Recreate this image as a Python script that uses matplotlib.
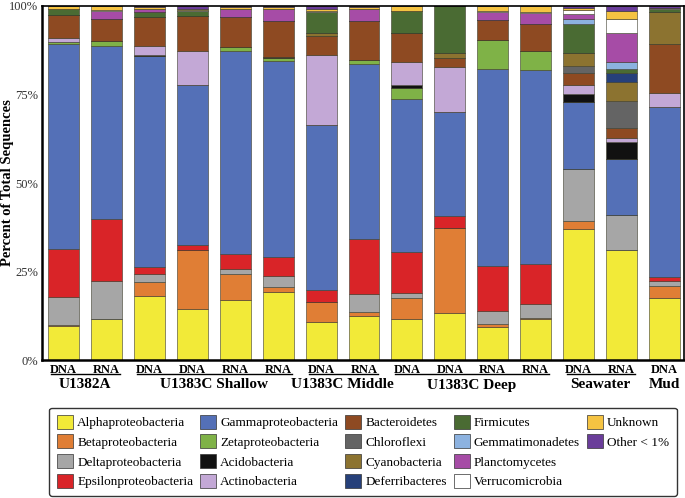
import numpy as np
import matplotlib
matplotlib.use("Agg")
import matplotlib.pyplot as plt
import matplotlib.transforms as mtransforms
from matplotlib.patches import Patch

plt.rcParams['font.family'] = ['Liberation Serif', 'DejaVu Serif']

# one entry per bar, left to right
samples = ["DNA", "RNA", "DNA", "DNA", "RNA", "RNA", "DNA", "RNA",
           "DNA", "DNA", "RNA", "RNA", "DNA", "RNA", "DNA"]
groups = [("U1382A", 0, 1), ("U1383C Shallow", 2, 5), ("U1383C Middle", 6, 7),
          ("U1383C Deep", 8, 11), ("Seawater", 12, 13), ("Mud", 14, 14)]

alpha   = [9.5, 11.5, 18.0, 14.3, 17.0, 19.3, 10.8, 12.4, 11.5, 13.2, 9.2, 11.5, 37.0, 31.2, 17.5]
beta    = [0.5, 0.0, 4.0, 16.9, 7.3, 1.3, 5.5, 1.3, 6.1, 24.0, 1.0, 0.4, 2.3, 0.0, 3.5]
delta   = [7.8, 10.7, 2.2, 0.0, 1.4, 3.2, 0.0, 4.9, 1.3, 0.0, 3.7, 3.9, 14.7, 9.7, 1.4]
epsilon = [13.7, 17.7, 2.2, 1.3, 4.3, 5.3, 3.5, 15.7, 11.6, 3.6, 12.7, 11.4, 0.0, 0.0, 1.0]
gamma   = [57.7, 48.9, 59.4, 45.3, 57.3, 55.4, 46.7, 49.2, 43.1, 29.2, 55.7, 54.6, 18.8, 16.0, 48.2]
zeta    = [0.6, 1.2, 0.0, 0.0, 1.0, 0.9, 0.0, 1.2, 3.3, 0.0, 8.1, 5.5, 0.0, 0.0, 0.0]
acido   = [0.0, 0.0, 0.3, 0.0, 0.2, 0.3, 0.0, 0.0, 0.7, 0.0, 0.0, 0.0, 2.4, 4.8, 0.0]
actino  = [1.1, 0.0, 2.5, 9.5, 0.0, 0.0, 19.6, 0.0, 6.6, 12.9, 0.0, 0.0, 2.6, 0.9, 3.8]
bactero = [6.6, 6.3, 8.4, 9.9, 8.4, 10.1, 5.4, 11.1, 8.3, 2.5, 5.6, 7.6, 3.3, 2.9, 14.0]
chloro  = [0.0, 0.0, 0.0, 0.0, 0.0, 0.0, 0.0, 0.0, 0.0, 0.0, 0.0, 0.0, 1.9, 7.8, 0.0]
cyano   = [0.0, 0.0, 0.0, 0.0, 0.0, 0.0, 1.0, 0.0, 0.0, 1.4, 0.0, 0.0, 3.6, 5.2, 8.8]
deferri = [0.0, 0.0, 0.0, 0.0, 0.0, 0.0, 0.0, 0.0, 0.0, 0.0, 0.0, 0.0, 0.0, 2.5, 0.0]
firmic  = [1.7, 0.0, 1.2, 1.3, 0.0, 0.0, 5.7, 0.0, 6.2, 13.2, 0.0, 0.0, 8.3, 1.3, 0.9]
gemmati = [0.0, 0.0, 0.0, 0.0, 0.0, 0.0, 0.0, 0.0, 0.0, 0.0, 0.0, 0.0, 1.3, 1.9, 0.0]
plancto = [0.0, 2.3, 0.9, 0.0, 2.3, 3.3, 0.0, 3.3, 0.0, 0.0, 2.2, 3.2, 1.5, 8.3, 0.0]
verruco = [0.0, 0.3, 0.0, 0.4, 0.0, 0.0, 0.4, 0.0, 0.0, 0.0, 0.3, 0.3, 1.2, 3.7, 0.3]
unknown = [0.9, 1.1, 0.5, 0.2, 0.5, 0.5, 0.5, 0.6, 1.3, 0.0, 1.5, 1.6, 0.6, 2.3, 0.0]
other   = [0.0, 0.0, 0.4, 0.9, 0.3, 0.4, 0.9, 0.3, 0.0, 0.0, 0.0, 0.0, 0.5, 1.5, 0.6]

taxa = [
    ("Alphaproteobacteria", alpha, "#f2ea38"),
    ("Betaproteobacteria", beta, "#e07e35"),
    ("Deltaproteobacteria", delta, "#a6a6a6"),
    ("Epsilonproteobacteria", epsilon, "#d92428"),
    ("Gammaproteobacteria", gamma, "#5470b7"),
    ("Zetaproteobacteria", zeta, "#7fb247"),
    ("Acidobacteria", acido, "#111111"),
    ("Actinobacteria", actino, "#c3a8d6"),
    ("Bacteroidetes", bactero, "#8e4a22"),
    ("Chloroflexi", chloro, "#646464"),
    ("Cyanobacteria", cyano, "#8c7330"),
    ("Deferribacteres", deferri, "#26407a"),
    ("Firmicutes", firmic, "#4a6b33"),
    ("Gemmatimonadetes", gemmati, "#8cb2e0"),
    ("Planctomycetes", plancto, "#a64ca6"),
    ("Verrucomicrobia", verruco, "#ffffff"),
    ("Unknown", unknown, "#f5c342"),
    ("Other < 1%", other, "#6a3d9a"),
]

fig = plt.figure(figsize=(6.85, 4.98), dpi=100)
ax = fig.add_axes([0.0613, 0.277, 0.937, 0.711])

x = np.arange(len(samples))
bottom = np.zeros(len(samples))
for name, vals, col in taxa:
    vals = np.array(vals)
    ax.bar(x, vals, width=0.72, bottom=bottom, color=col,
           edgecolor="#3a3a2a", linewidth=0.4)
    bottom += vals

ax.set_xlim(-0.5, 14.45)
ax.set_ylim(0, 100)
ax.set_yticks([0, 25, 50, 75, 100])
ax.set_yticklabels(["0%", "25%", "50%", "75%", "100%"], fontsize=9, color="#333333")
ax.tick_params(axis="y", length=0, pad=3)
ax.set_xticks(x)
ax.set_xticklabels(samples, fontsize=9, fontweight="bold")
ax.tick_params(axis="x", length=0, pad=3)
for s in ax.spines.values():
    s.set_linewidth(1.2)
ax.spines["left"].set_linewidth(1.8)
ax.spines["bottom"].set_linewidth(1.8)

fig.text(8 / 685, 1 - 183 / 498, "Percent of Total Sequences", rotation=90,
         ha="center", va="center", fontsize=10.5, fontweight="bold")

# group underlines and names below the sample labels
trans = mtransforms.blended_transform_factory(ax.transData, fig.transFigure)
for name, i0, i1 in groups:
    if i1 > i0:
        ax.plot([i0 - 0.28, i1 + 0.32], [1 - 374 / 498] * 2, color="black",
                linewidth=1.0, transform=trans, clip_on=False)
    ax.text((i0 + i1) / 2, 1 - 385 / 498, name, transform=trans, ha="center",
            va="center", fontsize=11, fontweight="bold")

handles = [Patch(facecolor=c, edgecolor="#333333", linewidth=0.5) for _, _, c in taxa]
labels = [n for n, _, _ in taxa]
handles += [Patch(alpha=0), Patch(alpha=0)]
labels += ["", ""]
leg = fig.legend(handles, labels, ncol=5, loc="center",
                 bbox_to_anchor=(363 / 685, 1 - 451.5 / 498),
                 fontsize=9.5, frameon=True, fancybox=True, edgecolor="black",
                 handlelength=1.25, handleheight=1.25, handletextpad=0.3,
                 columnspacing=0.5, labelspacing=0.4, borderpad=0.55)
leg.get_frame().set_linewidth(1.0)

fig.savefig("out.png", dpi=100)
